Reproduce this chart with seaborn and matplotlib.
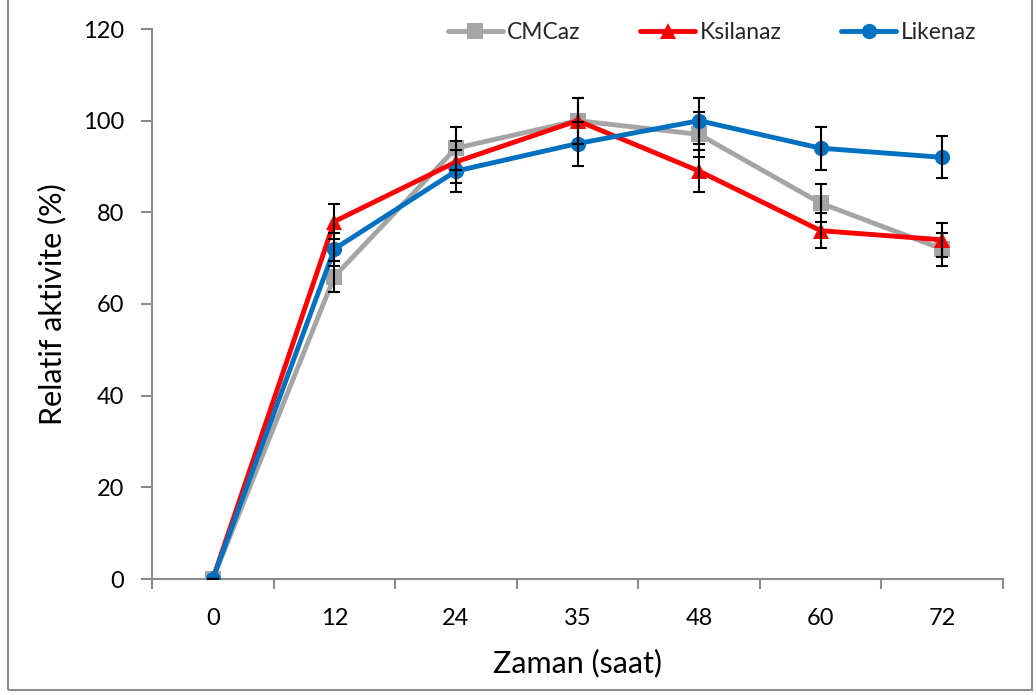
import matplotlib
matplotlib.use("Agg")
import matplotlib.pyplot as plt
import seaborn as sns
import pandas as pd
import numpy as np
from matplotlib.patches import Rectangle
from matplotlib.lines import Line2D

sns.set_theme(style="white")
plt.rcParams['font.family'] = ['Lato', 'DejaVu Sans']

time_labels = ["0", "12", "24", "35", "48", "60", "72"]
series_names = ["CMCaz", "Ksilanaz", "Likenaz"]
cmcaz = [0, 66, 94, 100, 97, 82, 72]
ksilanaz = [0, 78, 91, 100, 89, 76, 74]
likenaz = [0, 72, 89, 95, 100, 94, 92]
cmcaz_err = [0, 3.3, 4.7, 5.0, 4.9, 4.1, 3.6]
ksilanaz_err = [0, 3.9, 4.5, 5.0, 4.5, 3.8, 3.7]
likenaz_err = [0, 3.6, 4.5, 4.8, 5.0, 4.7, 4.6]

colors = {"CMCaz": "#A5A5A5", "Ksilanaz": "#FF0000", "Likenaz": "#0070C0"}
markers = {"CMCaz": "s", "Ksilanaz": "^", "Likenaz": "o"}

values = {"CMCaz": cmcaz, "Ksilanaz": ksilanaz, "Likenaz": likenaz}
errors = {"CMCaz": cmcaz_err, "Ksilanaz": ksilanaz_err, "Likenaz": likenaz_err}

rows = []
for name in series_names:
    for i, (v, e) in enumerate(zip(values[name], errors[name])):
        rows.append({"pos": i, "time": time_labels[i], "series": name, "value": v, "err": e})
df = pd.DataFrame(rows)

fig = plt.figure(figsize=(10.36, 6.95), dpi=100)
ax = fig.add_axes([152/1036, 1 - 579/695, (1003-152)/1036, (579-29)/695])

sns.lineplot(data=df, x="pos", y="value", hue="series", style="series",
             palette=colors, markers=markers, dashes=False, ax=ax,
             linewidth=3.5, markersize=11, markeredgewidth=0, legend=False,
             zorder=3)

for name in series_names:
    sub = df[df.series == name]
    ax.errorbar(sub["pos"], sub["value"], yerr=sub["err"], fmt="none",
                ecolor="black", elinewidth=1.5, capsize=4.5, capthick=1.5, zorder=4)

ax.set_xlim(-0.5, 6.5)
ax.set_ylim(0, 120)
ax.set_yticks(np.arange(0, 121, 20))
ax.set_xticks(range(len(time_labels)))
ax.set_xticklabels(time_labels)
ax.set_xticks(np.arange(-0.5, 7, 1), minor=True)
ax.tick_params(axis="x", which="major", length=0, pad=21, labelsize=17, colors="black")
ax.tick_params(axis="x", which="minor", length=7, width=1.5, color="#8C8C8C", direction="out", bottom=True)
ax.tick_params(axis="y", which="major", length=8, width=1.5, color="#8C8C8C", direction="out", left=True, pad=12, labelsize=17, labelcolor="black")

for s in ["top", "right"]:
    ax.spines[s].set_visible(False)
for s in ["left", "bottom"]:
    ax.spines[s].set_color("#8C8C8C")
    ax.spines[s].set_linewidth(1.5)

ax.set_xlabel("Zaman (saat)", fontsize=22, labelpad=14, color="black")
ax.set_ylabel("Relatif aktivite (%)", fontsize=22, labelpad=12, color="black")

handles = [Line2D([0], [0], color=colors[n], marker=markers[n], lw=3.5, markersize=11,
                  markeredgewidth=0) for n in series_names]
ax.legend(handles, series_names, loc="upper right", bbox_to_anchor=(0.993, 1.05), ncol=3,
          frameon=False, fontsize=16.5, handlelength=2.4, columnspacing=2.6, handletextpad=0.2)

fig.patches.append(Rectangle((8/1036, 5/695), (1032-8)/1036, 1.2, transform=fig.transFigure,
                             fill=False, edgecolor="#8C8C8C", linewidth=1.5, zorder=0))

fig.savefig("out.png", dpi=100)
